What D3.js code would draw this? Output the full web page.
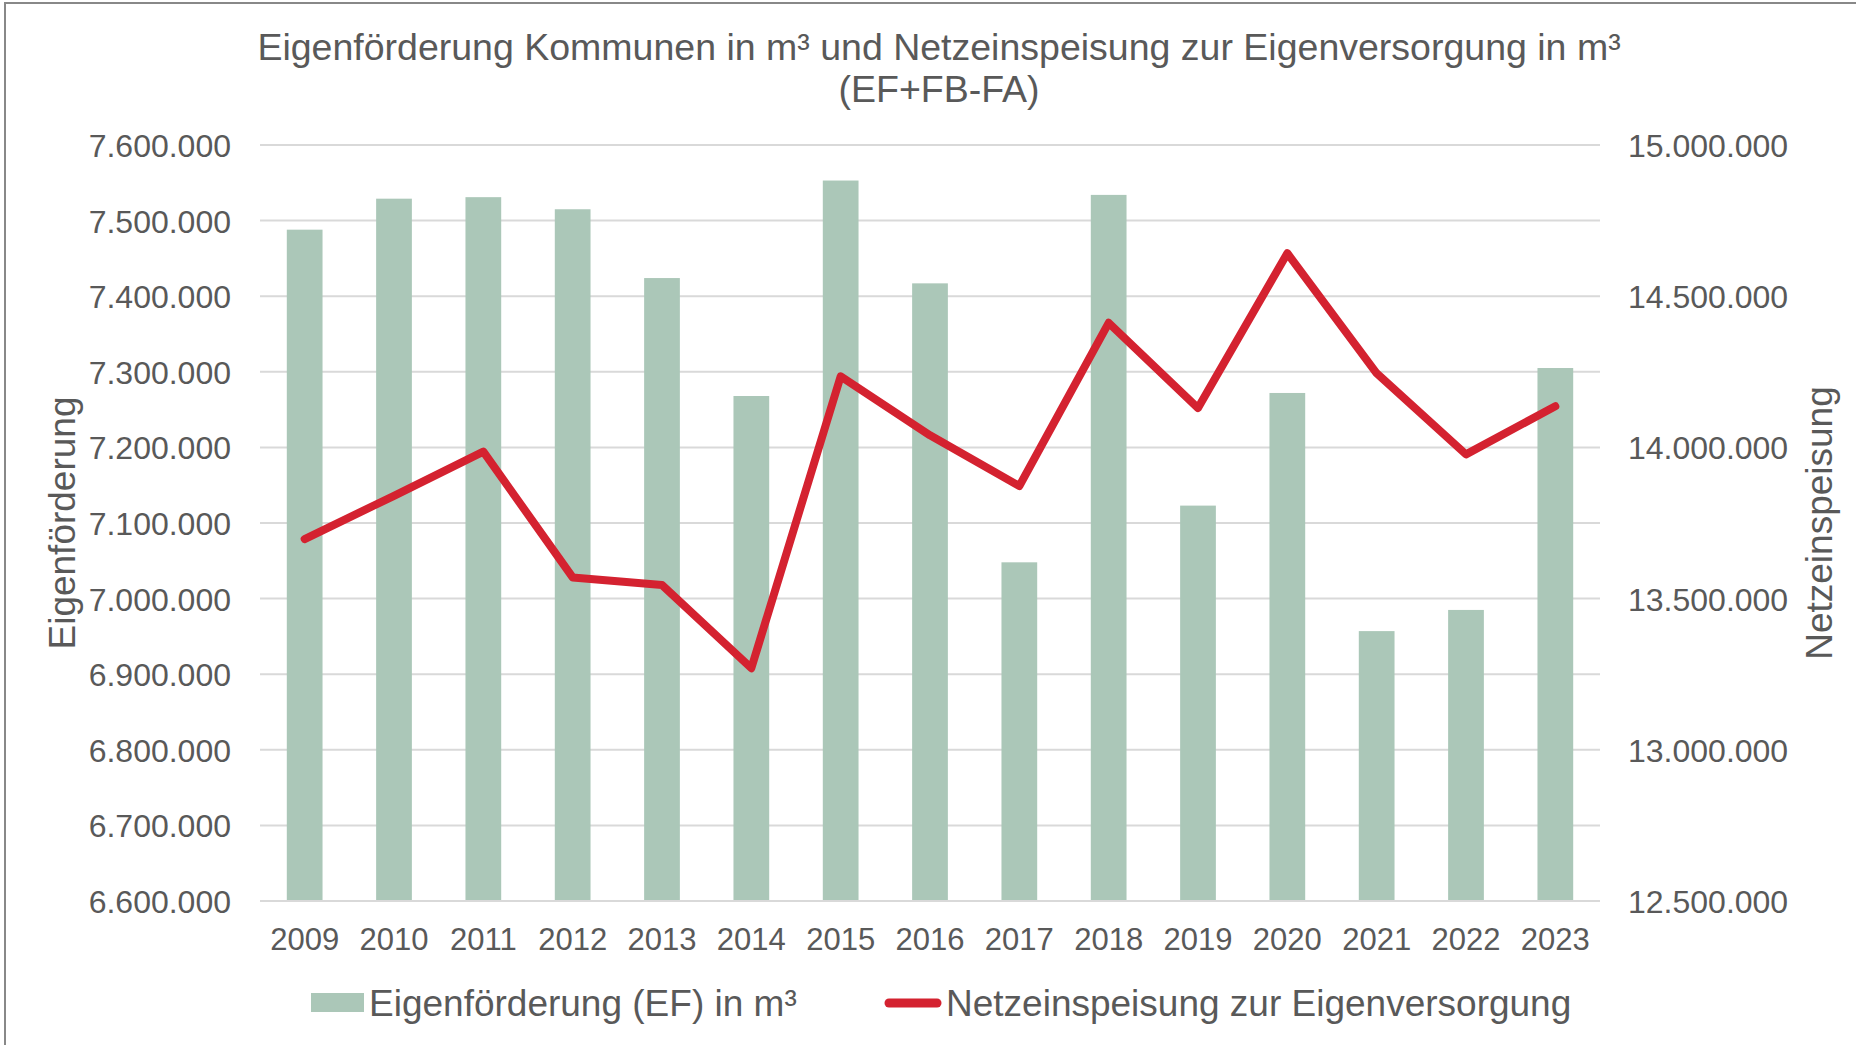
<!DOCTYPE html>
<html>
<head>
<meta charset="utf-8">
<script src="https://cdn.jsdelivr.net/npm/d3@7"></script>
<style>
  html, body { margin: 0; padding: 0; background: #fff; }
  svg text { font-family: "Liberation Sans", Arial, sans-serif; fill: #595959; }
</style>
</head>
<body>
<div id="chart"></div>
<script>
// data
const years = ["2009","2010","2011","2012","2013","2014","2015","2016","2017","2018","2019","2020","2021","2022","2023"];
const eigenfoerderung = [7488000, 7529000, 7531000, 7515000, 7424000, 7268000, 7553000, 7417000, 7048000, 7534000, 7123000, 7272000, 6957000, 6985000, 7305000];
const netzeinspeisung = [13697000, 13840000, 13986000, 13570000, 13545000, 13270000, 14235000, 14040000, 13872000, 14412000, 14130000, 14642000, 14245000, 13977000, 14136000];
const leftTicks = [6600000, 6700000, 6800000, 6900000, 7000000, 7100000, 7200000, 7300000, 7400000, 7500000, 7600000];
const rightTicks = [12500000, 13000000, 13500000, 14000000, 14500000, 15000000];
const titleLines = ["Eigenförderung Kommunen in m³ und Netzeinspeisung zur Eigenversorgung in m³", "(EF+FB-FA)"];
const legendLabels = ["Eigenförderung (EF) in m³", "Netzeinspeisung zur Eigenversorgung"];

const width = 1856, height = 1045;
const plot = {left: 260, right: 1600, top: 145, bottom: 901};
const barColor = "#abc7b8", lineColor = "#d42230", gridColor = "#d9d9d9";

const fmt = d3.formatLocale({decimal: ",", thousands: ".", grouping: [3], currency: ["", "€"]}).format(",.0f");

const svg = d3.select("#chart").append("svg")
    .attr("width", width)
    .attr("height", height);

svg.append("rect").attr("width", width).attr("height", height).attr("fill", "#fff");

// outer frame (only left + top edges visible in the picture)
svg.append("rect")
    .attr("x", 5).attr("y", 3)
    .attr("width", width + 20).attr("height", height + 20)
    .attr("fill", "none").attr("stroke", "#888").attr("stroke-width", 2);

const x = d3.scaleBand()
    .domain(years)
    .range([plot.left, plot.right])
    .paddingInner(0.6)
    .paddingOuter(0.3);

const yLeft = d3.scaleLinear().domain([6600000, 7600000]).range([plot.bottom, plot.top]);
const yRight = d3.scaleLinear().domain([12500000, 15000000]).range([plot.bottom, plot.top]);

// gridlines
svg.append("g")
    .selectAll("line")
    .data(leftTicks)
    .enter().append("line")
    .attr("x1", plot.left).attr("x2", plot.right)
    .attr("y1", d => yLeft(d)).attr("y2", d => yLeft(d))
    .attr("stroke", gridColor).attr("stroke-width", 2);

// left axis
const leftAxis = svg.append("g")
    .attr("transform", `translate(${plot.left - 29},0)`)
    .call(d3.axisLeft(yLeft).tickValues(leftTicks).tickFormat(fmt).tickSize(0).tickPadding(0));
leftAxis.select(".domain").remove();
leftAxis.selectAll("text").attr("font-size", 32).attr("fill", "#595959").attr("dy", "0.36em")
    .style("font-family", "'Liberation Sans', Arial, sans-serif");

// right axis
const rightAxis = svg.append("g")
    .attr("transform", `translate(${plot.right + 28},0)`)
    .call(d3.axisRight(yRight).tickValues(rightTicks).tickFormat(fmt).tickSize(0).tickPadding(0));
rightAxis.select(".domain").remove();
rightAxis.selectAll("text").attr("font-size", 32).attr("fill", "#595959").attr("dy", "0.36em")
    .style("font-family", "'Liberation Sans', Arial, sans-serif");

// bars
svg.append("g")
    .selectAll("rect")
    .data(eigenfoerderung)
    .enter().append("rect")
    .attr("x", (d, i) => x(years[i]))
    .attr("width", x.bandwidth())
    .attr("y", d => yLeft(d))
    .attr("height", d => plot.bottom - yLeft(d))
    .attr("fill", barColor);

// bottom axis line
svg.append("line")
    .attr("x1", plot.left).attr("x2", plot.right)
    .attr("y1", plot.bottom).attr("y2", plot.bottom)
    .attr("stroke", gridColor).attr("stroke-width", 2);

// x labels
const bottomAxis = svg.append("g")
    .attr("transform", `translate(0,${plot.bottom + 20})`)
    .call(d3.axisBottom(x).tickSize(0).tickPadding(0));
bottomAxis.select(".domain").remove();
bottomAxis.selectAll("text").attr("font-size", 31).attr("fill", "#595959").attr("dy", "0.95em")
    .style("font-family", "'Liberation Sans', Arial, sans-serif");

// line series
const line = d3.line()
    .x((d, i) => x(years[i]) + x.bandwidth() / 2)
    .y(d => yRight(d));

svg.append("path")
    .datum(netzeinspeisung)
    .attr("d", line)
    .attr("fill", "none")
    .attr("stroke", lineColor)
    .attr("stroke-width", 8)
    .attr("stroke-linejoin", "round")
    .attr("stroke-linecap", "round");

// title
svg.append("text")
    .attr("text-anchor", "middle")
    .attr("font-size", 37.5)
    .selectAll("tspan")
    .data(titleLines)
    .enter().append("tspan")
    .attr("x", 939)
    .attr("y", (d, i) => 60 + i * 42)
    .text(d => d);

// axis titles
svg.append("text")
    .attr("transform", `translate(75,${(plot.top + plot.bottom) / 2}) rotate(-90)`)
    .attr("text-anchor", "middle")
    .attr("font-size", 37)
    .text("Eigenförderung");

svg.append("text")
    .attr("transform", `translate(1832,${(plot.top + plot.bottom) / 2}) rotate(-90)`)
    .attr("text-anchor", "middle")
    .attr("font-size", 37)
    .text("Netzeinspeisung");

// legend
const legend = svg.append("g");
legend.append("rect")
    .attr("x", 311).attr("y", 993)
    .attr("width", 53).attr("height", 19)
    .attr("fill", barColor);
legend.append("text")
    .attr("x", 369).attr("y", 1016)
    .attr("font-size", 37)
    .text(legendLabels[0]);
legend.append("line")
    .attr("x1", 889).attr("x2", 937)
    .attr("y1", 1003).attr("y2", 1003)
    .attr("stroke", lineColor)
    .attr("stroke-width", 9)
    .attr("stroke-linecap", "round");
legend.append("text")
    .attr("x", 946).attr("y", 1016)
    .attr("font-size", 37)
    .text(legendLabels[1]);
</script>
</body>
</html>
